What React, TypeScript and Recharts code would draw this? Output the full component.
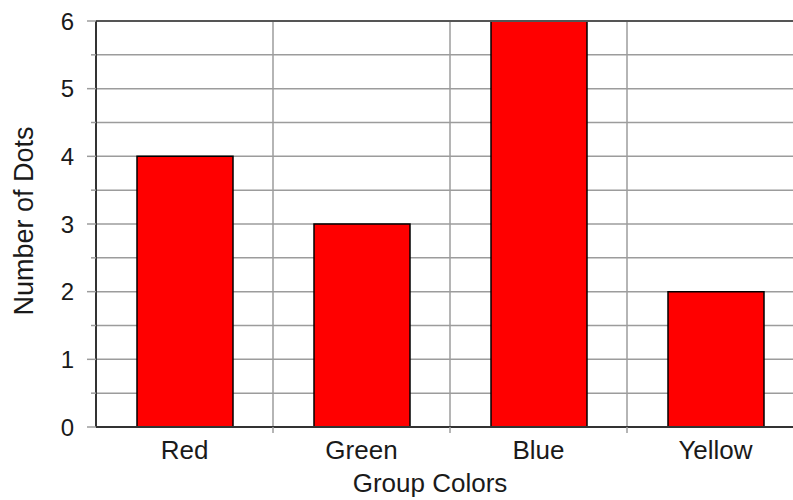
import React from 'react';
import { BarChart, Bar, XAxis, YAxis, CartesianGrid, ReferenceLine } from 'recharts';

const categories = ['Red', 'Green', 'Blue', 'Yellow'];
const dotCounts = [4, 3, 6, 2];
const yTicks = [0, 0.5, 1, 1.5, 2, 2.5, 3, 3.5, 4, 4.5, 5, 5.5, 6];

const data = categories.map((name, i) => ({ name, dots: dotCounts[i] }));

const GRID = '#9c9c9c';
const AXIS = '#333333';
const TEXT = '#1a1a1a';
const LABEL_GAP = 14;

const YTick = (props: any) => {
  const { x, y, payload } = props;
  const major = Number.isInteger(payload.value);
  return (
    <g>
      <line x1={x - (major ? 9 : 5)} x2={x} y1={y} y2={y} stroke={GRID} strokeWidth={1.5} />
      {major && (
        <text x={x - 22} y={y} textAnchor="end" dominantBaseline="central" fontSize={24} fill={TEXT}>
          {payload.value}
        </text>
      )}
    </g>
  );
};

// category label plus the small tick on the band border to its right
const XTick = (props: any) => {
  const { x, y, payload, width, visibleTicksCount, index } = props;
  const half = width / visibleTicksCount / 2;
  const axisY = y - LABEL_GAP;
  return (
    <g>
      {index < visibleTicksCount - 1 && (
        <line x1={x + half} x2={x + half} y1={axisY} y2={axisY + 6} stroke={GRID} strokeWidth={1.5} />
      )}
      <text x={x} y={y} dy="0.71em" textAnchor="middle" fontSize={26} fill={TEXT}>
        {payload.value}
      </text>
    </g>
  );
};

// vertical grid lines sit on the borders between categories
const categoryBorders = ({ offset }: any) =>
  categories.map((_, i) => offset.left + (i * offset.width) / categories.length).slice(1);

const App: React.FC = () => {
  return (
    <div
      style={{
        position: 'absolute',
        left: 0,
        top: 0,
        width: 793,
        height: 500,
        overflow: 'hidden',
        background: '#fff',
        fontFamily: '"Liberation Sans", Arial, sans-serif',
      }}
    >
      <BarChart width={806} height={500} data={data} margin={{ top: 21, right: 2, left: 0, bottom: 0 }}>
        <CartesianGrid stroke={GRID} strokeWidth={1.5} verticalCoordinatesGenerator={categoryBorders} />
        <XAxis
          dataKey="name"
          height={73}
          interval={0}
          tickLine={false}
          tickSize={0}
          tickMargin={LABEL_GAP}
          axisLine={{ stroke: AXIS, strokeWidth: 2 }}
          tick={<XTick />}
          label={{ value: 'Group Colors', position: 'insideBottom', offset: 8, dx: -20, fontSize: 26, fill: TEXT }}
        />
        <YAxis
          width={96}
          domain={[0, 6]}
          ticks={yTicks}
          interval={0}
          tickSize={0}
          tickMargin={0}
          tickLine={false}
          axisLine={{ stroke: AXIS, strokeWidth: 2 }}
          tick={<YTick />}
          label={{ value: 'Number of Dots', angle: -90, position: 'center', dx: -25, dy: -3, fontSize: 27, fill: TEXT }}
        />
        <ReferenceLine y={6} stroke="#555" strokeWidth={2} />
        <Bar
          dataKey="dots"
          fill="#ff0000"
          stroke="#000"
          strokeWidth={1.5}
          barSize={96}
          isAnimationActive={false}
        />
      </BarChart>
    </div>
  );
};

export default App;
